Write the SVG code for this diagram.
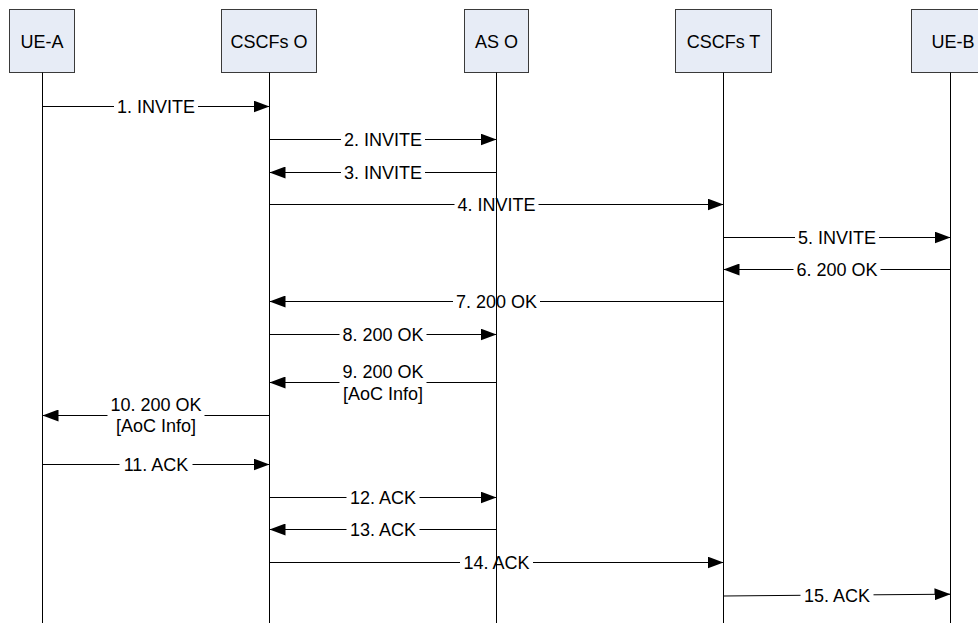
<svg xmlns="http://www.w3.org/2000/svg" width="978" height="623" viewBox="0 0 978 623">
<style>
.box{fill:#E7ECF6;stroke:#3a3a3a;stroke-width:1}
.ll{stroke:#000;stroke-width:1;fill:none}
.msg{stroke:#000;stroke-width:1;fill:none}
.arr{marker-end:url(#ah)}
text{font-family:"Liberation Sans",Arial,sans-serif;font-size:18px;fill:#000;text-anchor:middle}
</style>
<defs>
<marker id="ah" markerUnits="userSpaceOnUse" markerWidth="17" markerHeight="12" refX="16" refY="6" orient="auto">
<path d="M0,0 L16,6 L0,12 Z" fill="#000"/>
</marker>
</defs>
<rect width="978" height="623" fill="#fff"/>
<g id="ue-a">
<rect class="box" x="9.5" y="9.5" width="65" height="63"/>
<text x="42" y="47.5">UE-A</text>
<line class="ll" x1="42.5" y1="72.5" x2="42.5" y2="623"/>
</g>
<g id="cscfs-o">
<rect class="box" x="221.5" y="9.5" width="95" height="63"/>
<text x="269" y="47.5">CSCFs O</text>
<line class="ll" x1="269.5" y1="72.5" x2="269.5" y2="623"/>
</g>
<g id="as-o">
<rect class="box" x="464.5" y="9.5" width="64" height="63"/>
<text x="496.5" y="47.5">AS O</text>
<line class="ll" x1="496.5" y1="72.5" x2="496.5" y2="623"/>
</g>
<g id="cscfs-t">
<rect class="box" x="675.5" y="9.5" width="96" height="63"/>
<text x="723.5" y="47.5">CSCFs T</text>
<line class="ll" x1="723.5" y1="72.5" x2="723.5" y2="623"/>
</g>
<g id="ue-b">
<rect class="box" x="911.5" y="9.5" width="83" height="63"/>
<text x="953" y="47.5">UE-B</text>
<line class="ll" x1="950.5" y1="72.5" x2="950.5" y2="623"/>
</g>
<g id="connectors">
<!-- 1 -->
<line class="msg" x1="42.5" y1="106.5" x2="114" y2="106.5"/>
<line class="msg arr" x1="198" y1="106.5" x2="269.5" y2="106.5"/>
<text x="156" y="112.5">1. INVITE</text>
<!-- 2 -->
<line class="msg" x1="269.5" y1="139.5" x2="341" y2="139.5"/>
<line class="msg arr" x1="425" y1="139.5" x2="496.5" y2="139.5"/>
<text x="383" y="145.5">2. INVITE</text>
<!-- 3 -->
<line class="msg" x1="496.5" y1="172.5" x2="425" y2="172.5"/>
<line class="msg arr" x1="341" y1="172.5" x2="269.5" y2="172.5"/>
<text x="383" y="178.5">3. INVITE</text>
<!-- 4 -->
<line class="msg" x1="269.5" y1="204.5" x2="454.5" y2="204.5"/>
<line class="msg arr" x1="538.5" y1="204.5" x2="723.5" y2="204.5"/>
<text x="496.5" y="210.5">4. INVITE</text>
<!-- 5 -->
<line class="msg" x1="723.5" y1="237.5" x2="795" y2="237.5"/>
<line class="msg arr" x1="879" y1="237.5" x2="950.5" y2="237.5"/>
<text x="837" y="243.5">5. INVITE</text>
<!-- 6 -->
<line class="msg" x1="950.5" y1="269.5" x2="880.5" y2="269.5"/>
<line class="msg arr" x1="793.5" y1="269.5" x2="723.5" y2="269.5"/>
<text x="837" y="275.5">6. 200 OK</text>
<!-- 7 -->
<line class="msg" x1="723.5" y1="301.5" x2="540" y2="301.5"/>
<line class="msg arr" x1="453" y1="301.5" x2="269.5" y2="301.5"/>
<text x="496.5" y="307.5">7. 200 OK</text>
<!-- 8 -->
<line class="msg" x1="269.5" y1="334.5" x2="339.5" y2="334.5"/>
<line class="msg arr" x1="426.5" y1="334.5" x2="496.5" y2="334.5"/>
<text x="383" y="340.5">8. 200 OK</text>
<!-- 9 -->
<line class="msg" x1="496.5" y1="382.5" x2="426.5" y2="382.5"/>
<line class="msg arr" x1="339.5" y1="382.5" x2="269.5" y2="382.5"/>
<text x="383" y="378">9. 200 OK</text>
<text x="383" y="400">[AoC Info]</text>
<!-- 10 -->
<line class="msg" x1="269.5" y1="415.5" x2="204.5" y2="415.5"/>
<line class="msg arr" x1="107.5" y1="415.5" x2="42.5" y2="415.5"/>
<text x="156" y="411">10. 200 OK</text>
<text x="156" y="432">[AoC Info]</text>
<!-- 11 -->
<line class="msg" x1="42.5" y1="464.5" x2="119.5" y2="464.5"/>
<line class="msg arr" x1="192.5" y1="464.5" x2="269.5" y2="464.5"/>
<text x="156" y="470.5">11. ACK</text>
<!-- 12 -->
<line class="msg" x1="269.5" y1="497.5" x2="346.5" y2="497.5"/>
<line class="msg arr" x1="419.5" y1="497.5" x2="496.5" y2="497.5"/>
<text x="383" y="503.5">12. ACK</text>
<!-- 13 -->
<line class="msg" x1="496.5" y1="529.5" x2="419.5" y2="529.5"/>
<line class="msg arr" x1="346.5" y1="529.5" x2="269.5" y2="529.5"/>
<text x="383" y="535.5">13. ACK</text>
<!-- 14 -->
<line class="msg" x1="269.5" y1="562.5" x2="460" y2="562.5"/>
<line class="msg arr" x1="533" y1="562.5" x2="723.5" y2="562.5"/>
<text x="496.5" y="568.5">14. ACK</text>
<!-- 15 -->
<line class="msg" x1="723.5" y1="596" x2="800.5" y2="595.3"/>
<line class="msg arr" x1="873.5" y1="594.8" x2="950.5" y2="594.2"/>
<text x="837" y="601.5">15. ACK</text>
</g>
</svg>
